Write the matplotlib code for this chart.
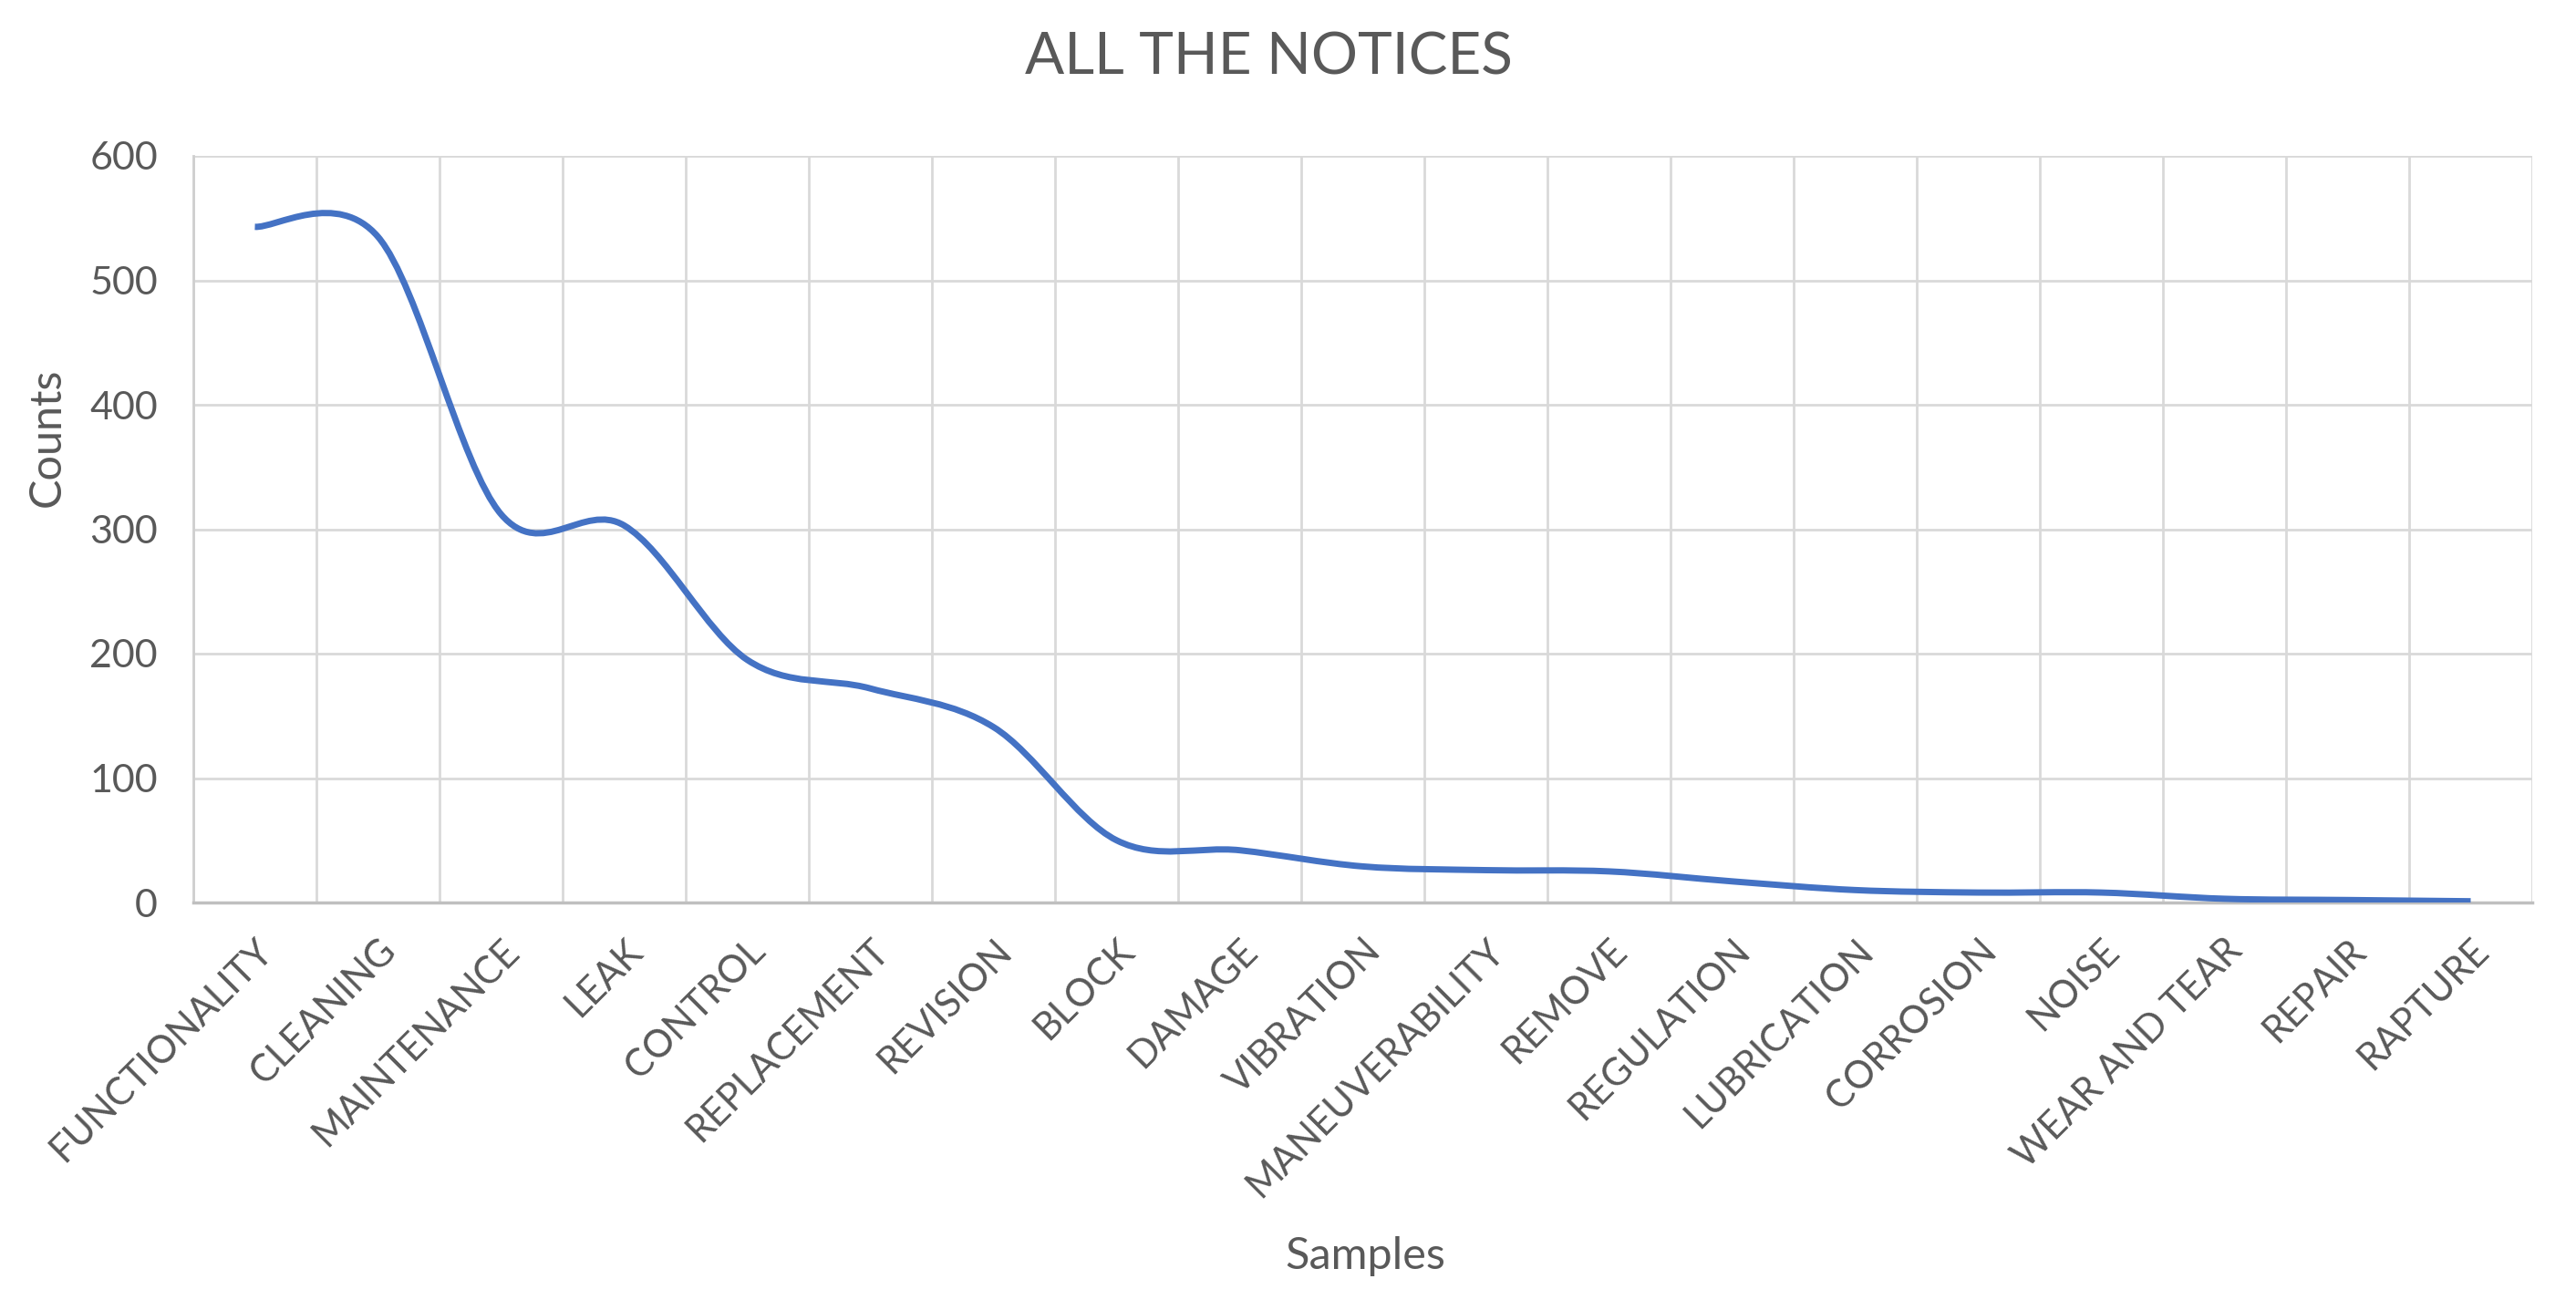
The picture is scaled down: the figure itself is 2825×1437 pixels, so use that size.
import numpy as np
import matplotlib
matplotlib.use("Agg")
import matplotlib.pyplot as plt
from matplotlib.path import Path
from matplotlib.patches import PathPatch

plt.rcParams['font.family'] = ['Lato', 'DejaVu Sans']

# data
categories = ['FUNCTIONALITY', 'CLEANING', 'MAINTENANCE', 'LEAK', 'CONTROL',
              'REPLACEMENT', 'REVISION', 'BLOCK', 'DAMAGE', 'VIBRATION',
              'MANEUVERABILITY', 'REMOVE', 'REGULATION', 'LUBRICATION',
              'CORROSION', 'NOISE', 'WEAR AND TEAR', 'REPAIR', 'RAPTURE']
counts = [543, 535, 312, 303, 195, 172, 141, 50, 42, 29,
          26, 25, 17, 10, 8, 8, 3, 2, 1]
y_ticks = [0, 100, 200, 300, 400, 500, 600]

TXT = '#595959'
GRID = '#D9D9D9'
LINE = '#4472C4'


def smooth_path(x, y):
    # Excel-like smoothed line: cubic bezier with catmull-rom control points
    n = len(x)
    verts = [(x[0], y[0])]
    codes = [Path.MOVETO]
    for i in range(n - 1):
        a = i - 1 if i > 0 else i
        d = i + 2 if i + 2 < n else i + 1
        c1 = (x[i] + (x[i + 1] - x[a]) / 6.0, y[i] + (y[i + 1] - y[a]) / 6.0)
        c2 = (x[i + 1] - (x[d] - x[i]) / 6.0, y[i + 1] - (y[d] - y[i]) / 6.0)
        verts += [c1, c2, (x[i + 1], y[i + 1])]
        codes += [Path.CURVE4] * 3
    return Path(verts, codes)


W, H = 2825, 1437
fig = plt.figure(figsize=(W / 100, H / 100), dpi=100)
left, right, top, bottom = 212, 2777, 171, 990
ax = fig.add_axes([left / W, 1 - bottom / H, (right - left) / W, (bottom - top) / H])

xs = np.arange(len(categories))
ax.add_patch(PathPatch(smooth_path(xs, counts), fill=False, edgecolor=LINE,
                       lw=5, joinstyle='round', capstyle='butt', zorder=3))

ax.set_xlim(-0.5, len(categories) - 0.5)
ax.set_ylim(0, 600)
ax.set_yticks(y_ticks)
ax.set_xticks(xs)
ax.set_xticks(np.arange(len(categories) + 1) - 0.5, minor=True)
ax.set_xticklabels(categories, rotation=45, ha='right', va='top',
                   rotation_mode='anchor', fontsize=30, color=TXT)
ax.tick_params(axis='x', which='both', length=0, pad=24)
ax.tick_params(axis='y', length=0, pad=28, labelsize=31, labelcolor=TXT)

ax.yaxis.grid(True, color=GRID, lw=2)
ax.xaxis.grid(True, which='minor', color=GRID, lw=2)
ax.xaxis.grid(False, which='major')
ax.set_axisbelow(True)

for s in ['top', 'right']:
    ax.spines[s].set_visible(False)
ax.spines['left'].set_color('#CFCFCF')
ax.spines['left'].set_linewidth(2)
ax.spines['bottom'].set_color('#BFBFBF')
ax.spines['bottom'].set_linewidth(2.5)

fig.text(1391 / W, 1 - 63 / H, 'ALL THE NOTICES', ha='center', va='center',
         fontsize=46, color=TXT)
fig.text(52 / W, 1 - 480 / H, 'Counts', rotation=90, ha='center', va='center',
         fontsize=35, color=TXT)
fig.text(1497 / W, 1 - 1392 / H, 'Samples', ha='center', va='baseline',
         fontsize=35, color=TXT)

fig.savefig('out.png', dpi=100, facecolor='white')
